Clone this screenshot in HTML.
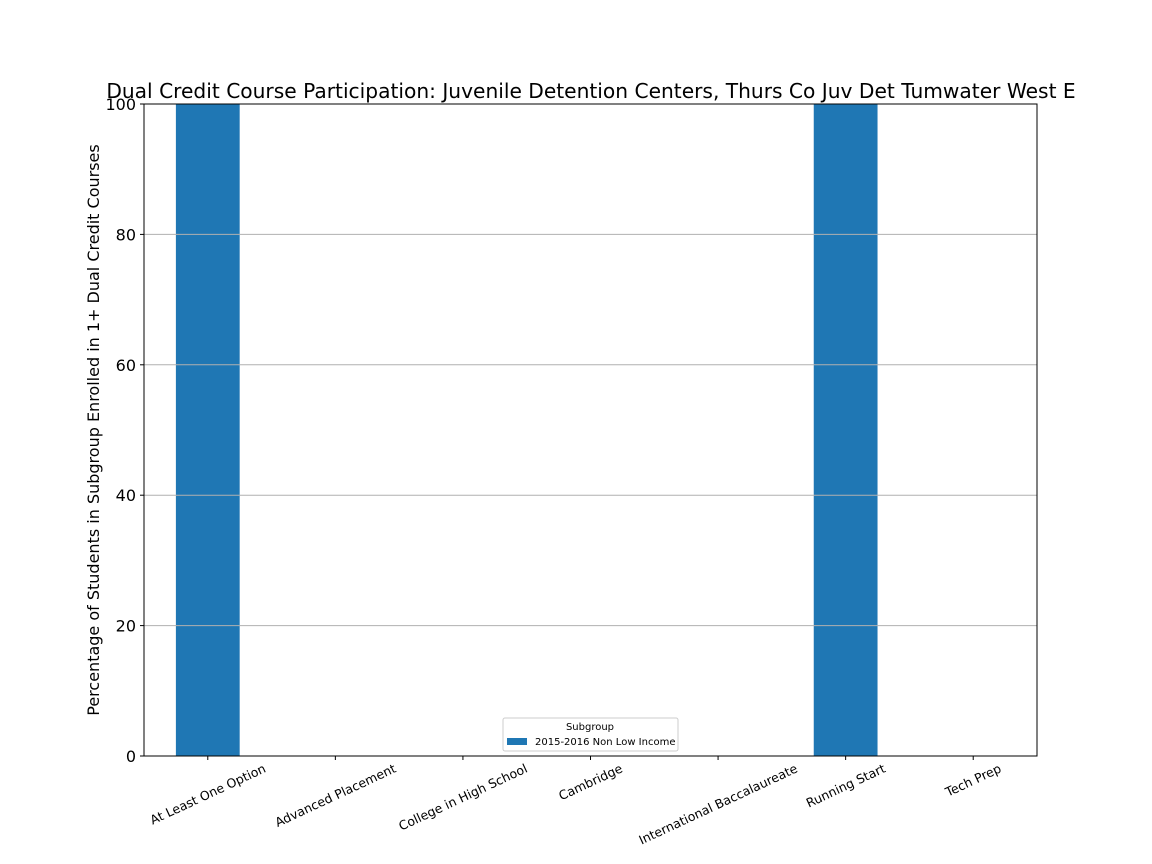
<!DOCTYPE html>
<html><head><meta charset="utf-8"><style>body{margin:0;background:#fff}svg{display:block}text{font-family:"DejaVu Sans","Liberation Sans",sans-serif}</style></head>
<body>
<svg id="chart" width="1152" height="864" xmlns="http://www.w3.org/2000/svg">
<rect width="1152" height="864" fill="#fff"/>
<text x="591" y="98" font-size="20.2" text-anchor="middle">Dual Credit Course Participation: Juvenile Detention Centers, Thurs Co Juv Det Tumwater West E</text>
<g id="bars"></g><g id="grid"></g><g id="axes"></g>
<text transform="translate(99,430) rotate(-90)" font-size="16" text-anchor="middle">Percentage of Students in Subgroup Enrolled in 1+ Dual Credit Courses</text>
<g>
<rect x="503" y="718" width="175" height="33" fill="#fff" stroke="#ccc" rx="2"/>
<text x="590" y="730" font-size="10" text-anchor="middle">Subgroup</text>
<rect x="507" y="738" width="20" height="7" fill="#1f77b4"/>
<text x="535" y="745" font-size="10">2015-2016 Non Low Income</text>
</g>
</svg>
<script>
const categories=["At Least One Option","Advanced Placement","College in High School","Cambridge","International Baccalaureate","Running Start","Tech Prep"];
const values=[100,0,0,0,0,100,0];
const yTicks=[0,20,40,60,80,100];
const L=144,R=1037,T=104,B=756,NS="http://www.w3.org/2000/svg";
const step=(R-L)/categories.length,bw=step*0.5;
const x=i=>L+step*(i+0.5);
const y=v=>B-(v/100)*(B-T);
function mk(t,a,p){const e=document.createElementNS(NS,t);for(const k in a)e.setAttribute(k,a[k]);p.appendChild(e);return e;}
const bars=document.getElementById('bars'),grid=document.getElementById('grid'),axes=document.getElementById('axes');
values.forEach((v,i)=>{const r=mk('rect',{x:x(i)-bw/2,y:y(v),width:bw,height:B-y(v),fill:'#1f77b4'},bars);

});
yTicks.forEach(t=>{if(t>0&&t<100)mk('line',{x1:L,x2:R,y1:y(t),y2:y(t),stroke:'#b0b0b0','stroke-width':1},grid);
mk('line',{x1:L-4,x2:L,y1:y(t),y2:y(t),stroke:'#000'},axes);
const tx=mk('text',{x:L-8,y:y(t)+6,'font-size':16,'text-anchor':'end'},axes);tx.textContent=t;

});
mk('rect',{x:L,y:T,width:R-L,height:B-T,fill:'none',stroke:'#000','stroke-width':1},axes);
const a=25*Math.PI/180;
categories.forEach((c,i)=>{mk('line',{x1:x(i),x2:x(i),y1:B,y2:B+4,stroke:'#000'},axes);
const tx=mk('text',{'font-size':12.5,'text-anchor':'middle'},axes);tx.textContent=c;


const w=tx.getComputedTextLength(),h=12;
const hh=w*Math.sin(a)+h*Math.cos(a);
const cy=B+6+hh/2;
tx.setAttribute('transform',`translate(${x(i)},${cy}) rotate(-25) translate(0,4.5)`);});
</script>
</body></html>
